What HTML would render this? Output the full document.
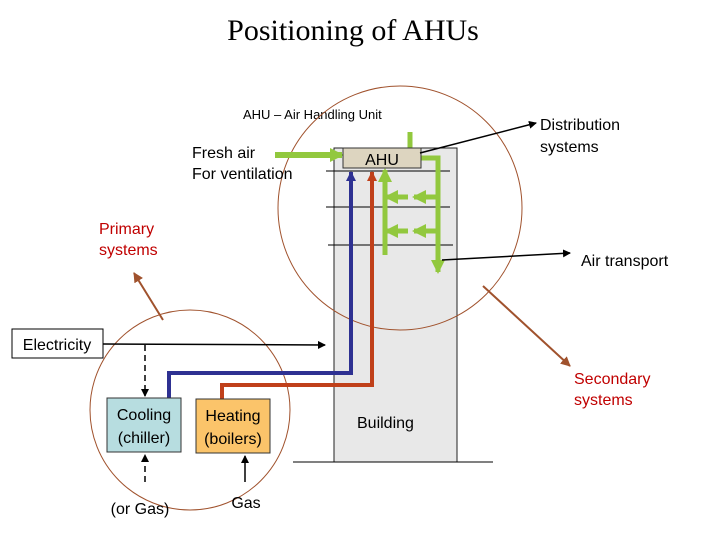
<!DOCTYPE html>
<html><head><style>body{margin:0;background:#fff}svg{display:block}</style></head><body>
<svg width="720" height="540" xmlns="http://www.w3.org/2000/svg" font-family="Liberation Sans, sans-serif">
<defs>
<marker id="ak" markerWidth="8" markerHeight="8" refX="7" refY="4" orient="auto" markerUnits="userSpaceOnUse"><path d="M0,0 L8,4 L0,8z" fill="#000"/></marker>
<marker id="ab" markerWidth="10" markerHeight="10" refX="9" refY="5" orient="auto" markerUnits="userSpaceOnUse"><path d="M0,0 L10,5 L0,10z" fill="#a0522d"/></marker>
<marker id="ag" markerWidth="14" markerHeight="14" refX="12" refY="7" orient="auto" markerUnits="userSpaceOnUse"><path d="M0,0 L14,7 L0,14z" fill="#92c83e"/></marker>
<marker id="abl" markerWidth="10" markerHeight="10" refX="9" refY="5" orient="auto" markerUnits="userSpaceOnUse"><path d="M0,0 L10,5 L0,10z" fill="#2e3192"/></marker>
<marker id="ar" markerWidth="10" markerHeight="10" refX="9" refY="5" orient="auto" markerUnits="userSpaceOnUse"><path d="M0,0 L10,5 L0,10z" fill="#c0401a"/></marker>
</defs>
<text x="353" y="40" font-family="Liberation Serif, serif" font-size="30" text-anchor="middle">Positioning of AHUs</text>
<text x="243" y="119" font-size="13">AHU – Air Handling Unit</text>
<rect x="334" y="148" width="123" height="314" fill="#e8e8e8" stroke="#222" stroke-width="1"/>
<line x1="293" y1="462" x2="493" y2="462" stroke="#000"/>
<line x1="326" y1="171" x2="450" y2="171" stroke="#000"/>
<line x1="326" y1="207" x2="450" y2="207" stroke="#000"/>
<line x1="328" y1="245" x2="453" y2="245" stroke="#000"/>
<circle cx="400" cy="208" r="122" fill="none" stroke="#a0522d" stroke-width="1"/>
<circle cx="190" cy="410" r="100" fill="none" stroke="#a0522d" stroke-width="1"/>
<polyline points="169,398 169,373 351,373 351,172" fill="none" stroke="#2e3192" stroke-width="4" marker-end="url(#abl)"/>
<polyline points="222,400 222,385 372,385 372,172" fill="none" stroke="#c0401a" stroke-width="4" marker-end="url(#ar)"/>
<line x1="275" y1="155" x2="342" y2="155" stroke="#92c83e" stroke-width="6" marker-end="url(#ag)"/>
<line x1="410" y1="148" x2="410" y2="132" stroke="#92c83e" stroke-width="5"/>
<polyline points="421,158 438,158 438,272" fill="none" stroke="#92c83e" stroke-width="5" marker-end="url(#ag)"/>
<line x1="385" y1="255" x2="385" y2="170" stroke="#92c83e" stroke-width="5" marker-end="url(#ag)"/>
<line x1="438" y1="197" x2="414" y2="197" stroke="#92c83e" stroke-width="5" marker-end="url(#ag)"/>
<line x1="408" y1="197" x2="386" y2="197" stroke="#92c83e" stroke-width="5" marker-end="url(#ag)"/>
<line x1="438" y1="231" x2="414" y2="231" stroke="#92c83e" stroke-width="5" marker-end="url(#ag)"/>
<line x1="408" y1="231" x2="386" y2="231" stroke="#92c83e" stroke-width="5" marker-end="url(#ag)"/>
<rect x="343" y="148" width="78" height="20" fill="#ddd5c0" stroke="#333"/>
<text x="382" y="165" font-size="16" text-anchor="middle">AHU</text>
<text x="192" y="158" font-size="16">Fresh air</text>
<text x="192" y="179" font-size="16">For ventilation</text>
<text x="99" y="234" font-size="16" fill="#c00000">Primary</text>
<text x="99" y="255" font-size="16" fill="#c00000">systems</text>
<text x="540" y="130" font-size="16">Distribution</text>
<text x="540" y="152" font-size="16">systems</text>
<text x="581" y="266" font-size="16">Air transport</text>
<text x="574" y="384" font-size="16" fill="#c00000">Secondary</text>
<text x="574" y="405" font-size="16" fill="#c00000">systems</text>
<text x="357" y="428" font-size="16">Building</text>
<line x1="420" y1="153" x2="536" y2="123" stroke="#000" stroke-width="1.5" marker-end="url(#ak)"/>
<line x1="442" y1="260" x2="570" y2="253" stroke="#000" stroke-width="1.5" marker-end="url(#ak)"/>
<line x1="163" y1="320" x2="134" y2="273" stroke="#a0522d" stroke-width="2" marker-end="url(#ab)"/>
<line x1="483" y1="286" x2="570" y2="366" stroke="#a0522d" stroke-width="2" marker-end="url(#ab)"/>
<rect x="12" y="329" width="91" height="29" fill="#fff" stroke="#000"/>
<text x="57" y="350" font-size="16" text-anchor="middle">Electricity</text>
<line x1="103" y1="344" x2="325" y2="345" stroke="#000" stroke-width="1.5" marker-end="url(#ak)"/>
<line x1="145" y1="345" x2="145" y2="396" stroke="#000" stroke-width="1.5" stroke-dasharray="6,4" marker-end="url(#ak)"/>
<rect x="107" y="398" width="74" height="54" fill="#b7dde0" stroke="#333"/>
<text x="144" y="420" font-size="16" text-anchor="middle">Cooling</text>
<text x="144" y="443" font-size="16" text-anchor="middle">(chiller)</text>
<rect x="196" y="399" width="74" height="54" fill="#fbc46a" stroke="#333"/>
<text x="233" y="421" font-size="16" text-anchor="middle">Heating</text>
<text x="233" y="444" font-size="16" text-anchor="middle">(boilers)</text>
<line x1="145" y1="482" x2="145" y2="455" stroke="#000" stroke-width="1.5" stroke-dasharray="6,4" marker-end="url(#ak)"/>
<line x1="245" y1="482" x2="245" y2="456" stroke="#000" stroke-width="1.5" marker-end="url(#ak)"/>
<text x="140" y="514" font-size="16" text-anchor="middle">(or Gas)</text>
<text x="246" y="508" font-size="16" text-anchor="middle">Gas</text>
</svg>
</body></html>
